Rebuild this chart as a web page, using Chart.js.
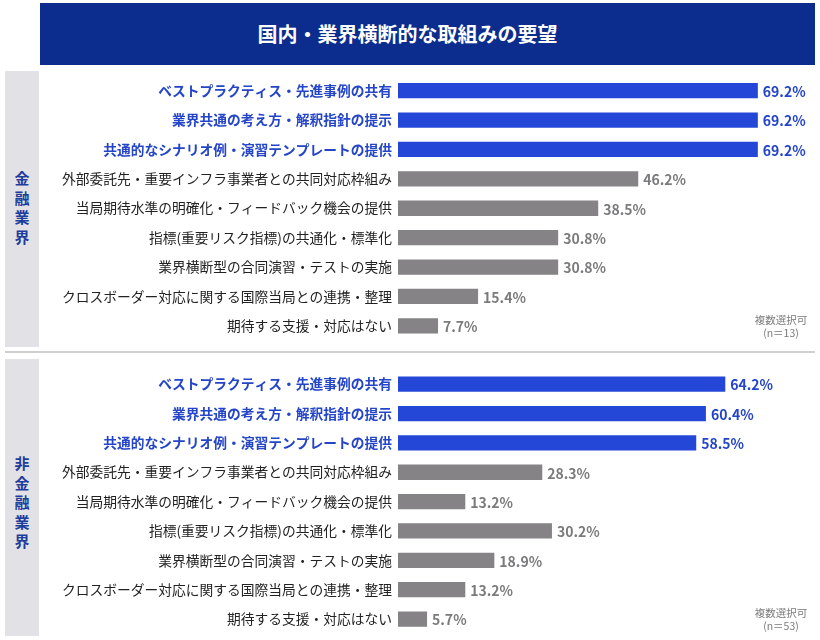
<!DOCTYPE html>
<html lang="ja">
<head>
<meta charset="utf-8">
<script src="https://cdn.jsdelivr.net/npm/chart.js@4.4.0/dist/chart.umd.min.js"></script>
<style>
  html, body { margin: 0; padding: 0; background: #fff; }
  body { width: 820px; height: 640px; position: relative; overflow: hidden;
         font-family: "Noto Sans CJK JP", "Noto Sans", sans-serif; }
  .title { position: absolute; left: 40px; top: 3px; width: 775px; height: 62px;
           background: #0c2d8d; color: #fff; font-size: 20px; font-weight: bold;
           line-height: 62px; text-align: center; text-indent: -40px; }
  .strip { position: absolute; left: 5px; width: 34px; background: #e2e2e6; }
  .vlabel { position: absolute; left: 5px; width: 34px; text-align: center;
            color: #1d3c9c; font-size: 15px; font-weight: bold; line-height: 19.5px; }
  .sep { position: absolute; left: 5px; top: 351px; width: 810px; height: 2px; background: #cfcfcf; }
  .note { position: absolute; width: 70px; text-align: center; color: #7a7a7a;
          font-size: 10.5px; line-height: 13px; }
  canvas { position: absolute; left: 40px; }
</style>
</head>
<body>
<div class="title">国内・業界横断的な取組みの要望</div>

<div class="strip" style="top:71px;height:276px"></div>
<div class="strip" style="top:359px;height:277px"></div>
<div class="sep"></div>
<div class="vlabel" style="top:168px">金<br>融<br>業<br>界</div>
<div class="vlabel" style="top:453px">非<br>金<br>融<br>業<br>界</div>

<canvas id="chartFin" width="780" height="280" style="top:70px"></canvas>
<canvas id="chartNon" width="780" height="280" style="top:360px"></canvas>

<div class="note" style="left:746px;top:313px">複数選択可<br>(n＝13)</div>
<div class="note" style="left:746px;top:606px">複数選択可<br>(n＝53)</div>

<script>
// categories (same for both groups)
var categories = [
  "ベストプラクティス・先進事例の共有",
  "業界共通の考え方・解釈指針の提示",
  "共通的なシナリオ例・演習テンプレートの提供",
  "外部委託先・重要インフラ事業者との共同対応枠組み",
  "当局期待水準の明確化・フィードバック機会の提供",
  "指標(重要リスク指標)の共通化・標準化",
  "業界横断型の合同演習・テストの実施",
  "クロスボーダー対応に関する国際当局との連携・整理",
  "期待する支援・対応はない"
];

// 金融業界 (n=13)
var financeValues = [69.2, 69.2, 69.2, 46.2, 38.5, 30.8, 30.8, 15.4, 7.7];
// 非金融業界 (n=53)
var nonFinanceValues = [64.2, 60.4, 58.5, 28.3, 13.2, 30.2, 18.9, 13.2, 5.7];

var highlightCount = 3;

var BLUE = "#2447d8";
var BLUE_TEXT = "#2445c8";
var GRAY = "#858385";
var FONT = "'Noto Sans CJK JP', 'Noto Sans', sans-serif";

//value labels at the end of each bar
var valueLabels = {
  id: "valueLabels",
  afterDatasetsDraw: function (chart) {
    var ctx = chart.ctx;
    var meta = chart.getDatasetMeta(0);
    var data = chart.data.datasets[0].data;
    ctx.save();
    ctx.textBaseline = "middle";
    ctx.textAlign = "left";
    meta.data.forEach(function (bar, i) {
      var hi = i < highlightCount;
      ctx.font = "bold 14px " + FONT;
      ctx.fillStyle = hi ? BLUE_TEXT : "#7b7b7d";
      ctx.fillText(data[i].toFixed(1) + "%", bar.x + 5, bar.y + 1);
    });
    ctx.restore();
  },
};

function makeChart(id, values, xMax, pad) {
  var ctx = document.getElementById(id).getContext("2d");
  return new Chart(ctx, {
    type: "bar",
    data: {
      labels: categories,
      datasets: [
        {
          data: values,
          backgroundColor: values.map(function (v, i) {
            return i < highlightCount ? BLUE : GRAY;
          }),
          barPercentage: 0.52,
          categoryPercentage: 1,
        },
      ],
    },
    options: {
      indexAxis: "y",
      responsive: false,
      animation: false,
      layout: { padding: pad },
      plugins: {
        legend: { display: false },
        tooltip: { enabled: false },
      },
      scales: {
        x: { display: false, min: 0, max: xMax },
        y: {
          grid: { display: false, drawTicks: false },
          border: { display: false },
          afterFit: function (scale) {
            scale.width = 358;
            scale.paddingTop = 0;
            scale.paddingBottom = 0;
          },
          ticks: {
            padding: 6,
            autoSkip: false,
            color: function (c) {
              return c.index < highlightCount ? BLUE_TEXT : "#222";
            },
            font: function (c) {
              return {
                family: FONT,
                size: 13.75,
                weight: c.index < highlightCount ? "bold" : "normal",
              };
            },
          },
        },
      },
    },
    plugins: [valueLabels],
  });
}

makeChart("chartFin", financeValues, 80, { top: 6, bottom: 9.5, left: 0, right: 6 });
makeChart("chartNon", nonFinanceValues, 81.6, { top: 9.5, bottom: 6.3, left: 0, right: 6 });
</script>
</body>
</html>
